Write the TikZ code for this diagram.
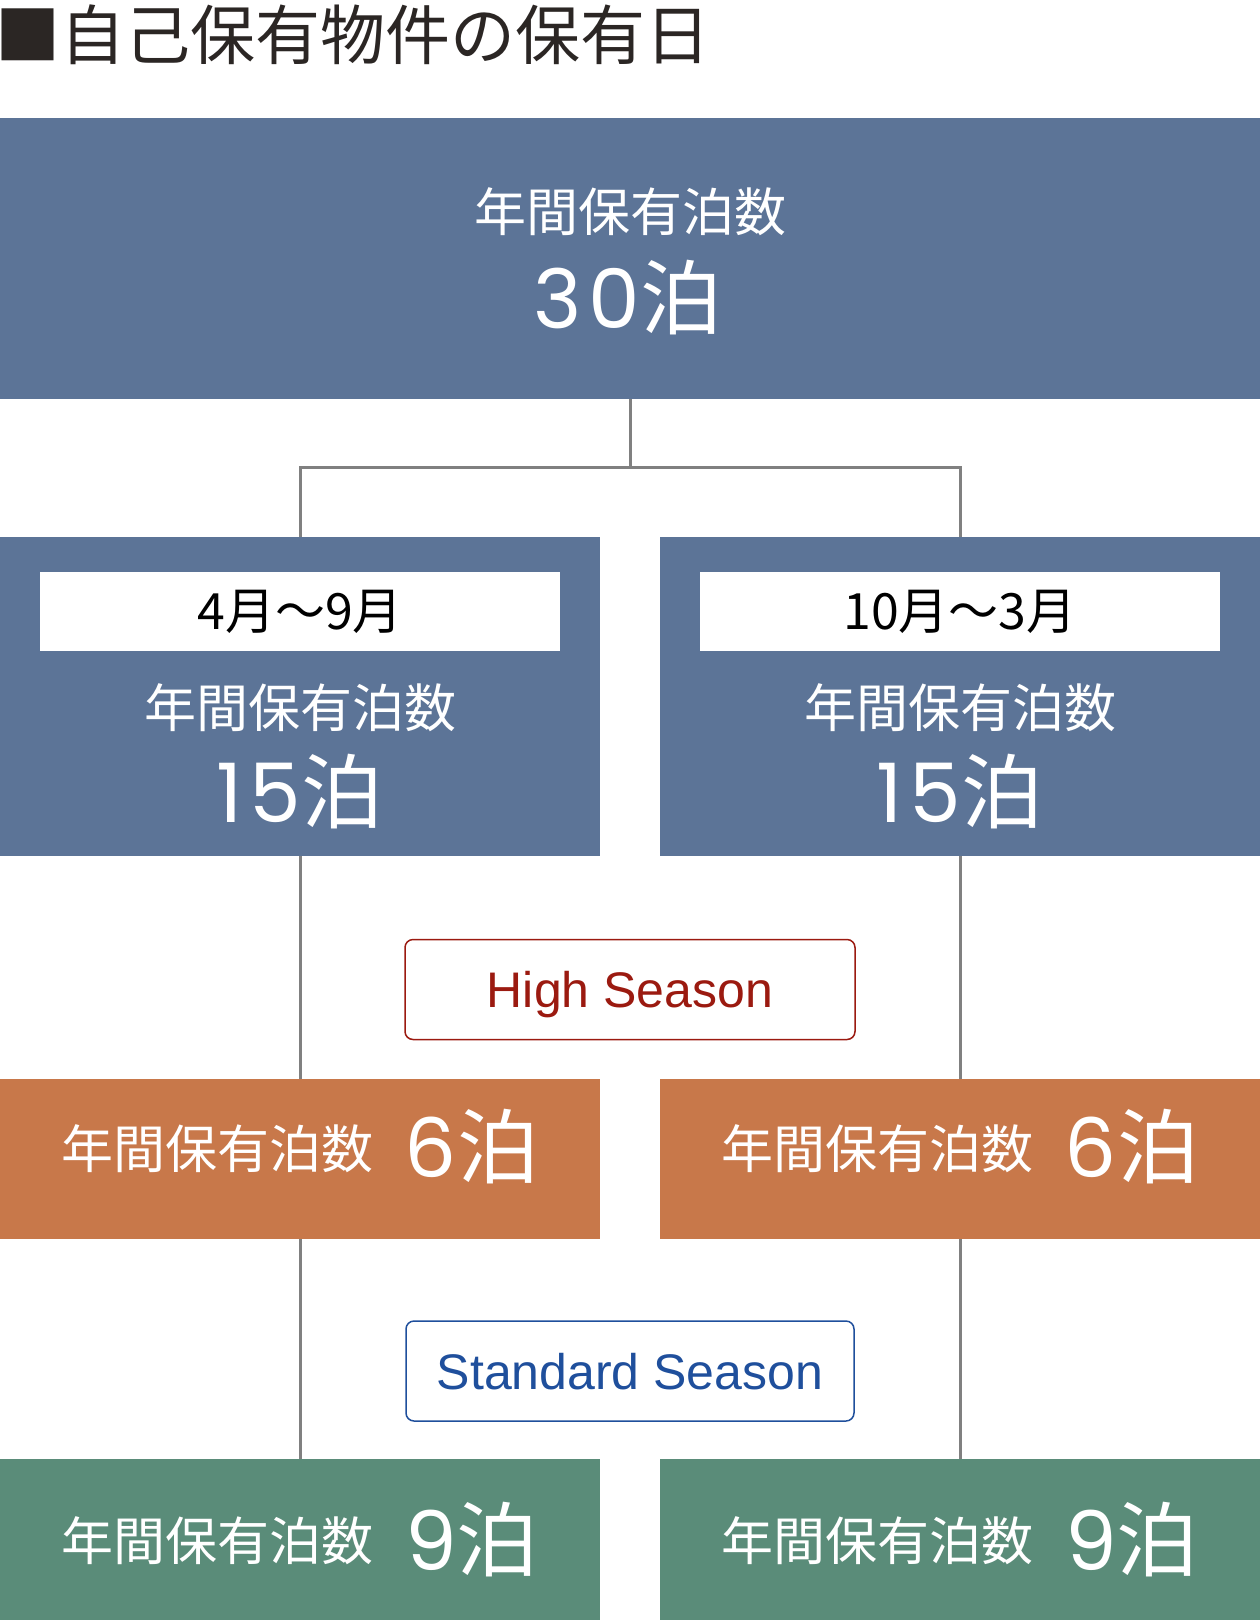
\documentclass[tikz,border=0pt]{standalone}
\usepackage{fontspec}
\setmainfont{Liberation Sans}
\newfontfamily\jp{Noto Sans CJK JP}
\newfontfamily\num[LetterSpace=8]{Poppins}
\newcommand\setsize[1]{\fontsize{#1pt}{#1pt}\selectfont}
\definecolor{titlegray}{RGB}{43,38,36}
\definecolor{boxblue}{RGB}{92,116,151}
\definecolor{highorange}{RGB}{200,120,74}
\definecolor{stdgreen}{RGB}{90,140,121}
\definecolor{linegray}{RGB}{128,128,128}
\definecolor{highred}{RGB}{155,26,16}
\definecolor{stdblue}{RGB}{31,79,156}
\begin{document}
\begin{tikzpicture}[x=1pt,y=-1pt,
  period/.style={fill=boxblue,minimum width=600pt,minimum height=319pt,inner sep=0pt},
  share/.style={minimum width=600pt,minimum height=160pt,inner sep=0pt},
  monthbox/.style={fill=white,minimum width=520pt,minimum height=79pt,inner sep=0pt,font={\jp\setsize{50}},text=black},
  lbl/.style={inner sep=0pt,text=white,font={\jp\setsize{52}}},
  big/.style={inner sep=0pt,text=white,font={\setsize{82}}},
  season/.style={draw,line width=1.5pt,rounded corners=8pt,fill=white,minimum width=450pt,minimum height=100pt,text depth=0pt,font={\setsize{50}}},
  link/.style={draw=linegray,line width=3pt}]
\useasboundingbox (0,0) rectangle (1260,1620);

\node[anchor=base west,inner sep=0pt,text=titlegray,font={\jp\setsize{65}}] (title) at (-5,59) {■自己保有物件の保有日};

% whole year
\node[fill=boxblue,minimum width=1260pt,minimum height=281pt,inner sep=0pt] (total) at (630,258.5) {};
\node[lbl] (totallabel) at (630,212) {年間保有泊数};
\node[big] (totalnum) at (628,298) {\num 30\jp 泊};

% half years
\node[period] (apr) at (300,696.5) {};
\node[period] (oct) [right of=apr,node distance=660pt] {};
\node[monthbox] (aprmonth) at (300,611.5) {4月～9月};
\node[monthbox] (octmonth) [right of=aprmonth,node distance=660pt] {10月～3月};
\node[lbl] (aprlabel) at (300,708) {年間保有泊数};
\node[lbl] (octlabel) [right of=aprlabel,node distance=660pt] {年間保有泊数};
\node[big] (aprnum) at (300,792) {\num 15\jp 泊};
\node[big] (octnum) [right of=aprnum,node distance=660pt] {\num 15\jp 泊};

% high season
\node[season,draw=highred,text=highred] (high) at (630,989.5) {High Season};
\node[share,fill=highorange] (aprhigh) at (300,1159) {};
\node[share,fill=highorange] (octhigh) [right of=aprhigh,node distance=660pt] {};
\node[lbl] (aprhighlabel) at (217,1149) {年間保有泊数};
\node[lbl] (octhighlabel) [right of=aprhighlabel,node distance=660pt] {年間保有泊数};
\node[big] (aprhighnum) at (472,1147) {\num 6\jp 泊};
\node[big] (octhighnum) [right of=aprhighnum,node distance=660pt] {\num 6\jp 泊};

% standard season
\node[season,draw=stdblue,text=stdblue,minimum width=448pt] (std) at (630,1371) {Standard Season};
\node[share,fill=stdgreen,minimum height=161pt] (aprstd) at (300,1539.5) {};
\node[share,fill=stdgreen,minimum height=161pt] (octstd) [right of=aprstd,node distance=660pt] {};
\node[lbl] (aprstdlabel) at (217,1541) {年間保有泊数};
\node[lbl] (octstdlabel) [right of=aprstdlabel,node distance=660pt] {年間保有泊数};
\node[big] (aprstdnum) at (472,1540) {\num 9\jp 泊};
\node[big] (octstdnum) [right of=aprstdnum,node distance=660pt] {\num 9\jp 泊};

\coordinate (split) at (630,467);
\draw[link] (total.south) -- (split) -| (apr.north);
\draw[link] (split) -| (oct.north);
\draw[link] (apr.south) -- (aprhigh.north);
\draw[link] (oct.south) -- (octhigh.north);
\draw[link] (aprhigh.south) -- (aprstd.north);
\draw[link] (octhigh.south) -- (octstd.north);
\end{tikzpicture}
\end{document}
